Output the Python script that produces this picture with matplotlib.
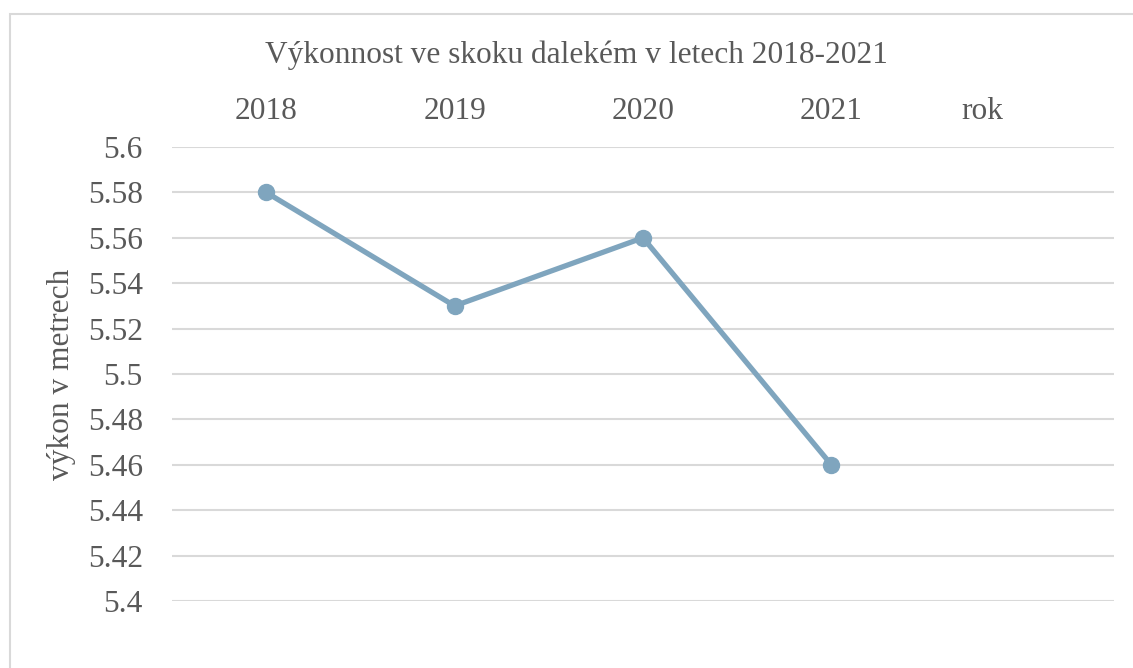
import matplotlib
matplotlib.use("Agg")
import matplotlib.pyplot as plt
from matplotlib.patches import Rectangle

years = ["2018", "2019", "2020", "2021"]
values = [5.58, 5.53, 5.56, 5.46]
y_ticks = [5.4, 5.42, 5.44, 5.46, 5.48, 5.5, 5.52, 5.54, 5.56, 5.58, 5.6]
y_tick_labels = ["5.4", "5.42", "5.44", "5.46", "5.48", "5.5", "5.52", "5.54", "5.56", "5.58", "5.6"]
title = "Výkonnost ve skoku dalekém v letech 2018-2021"
x_title = "rok"
y_title = "výkon v metrech"

plt.rcParams['font.family'] = ['Liberation Serif', 'DejaVu Serif']
TXT = "#595959"
FS = 22.6

W, H = 1133, 668
fig = plt.figure(figsize=(W / 100, H / 100), dpi=100)
fig.patch.set_facecolor("white")

# outer chart border (extends beyond image right/bottom)
fig.patches.append(Rectangle((10 / W, -0.1), 1.2, 1 - 14 / H + 0.1, transform=fig.transFigure,
                             fill=False, edgecolor="#d9d9d9", linewidth=1.5, zorder=0))

ax = fig.add_axes([172 / W, 1 - 601 / H, (1114 - 172) / W, (601 - 147) / H])
ax.set_xlim(-0.5, 4.5)
ax.set_ylim(5.4, 5.6)

for t in y_ticks:
    ax.axhline(t, color="#d9d9d9", linewidth=1.5, zorder=1)

x = list(range(len(years)))
ax.plot(x, values, color="#7fa5be", linewidth=3.8, marker="o", markersize=11.5,
        solid_capstyle="round", zorder=3)

ax.set_yticks(y_ticks)
ax.set_yticklabels(y_tick_labels, fontsize=FS, color=TXT)
ax.set_xticks(x)
ax.set_xticklabels(years, fontsize=FS, color=TXT)
ax.xaxis.tick_top()
ax.tick_params(axis="both", length=0)
ax.tick_params(axis="y", pad=21)
ax.tick_params(axis="x", pad=15)
for s in ax.spines.values():
    s.set_visible(False)

fig.text(62 / W, 1 - 374 / H, y_title, rotation=90, fontsize=FS, color=TXT,
         ha="center", va="center")
fig.text(576 / W, 1 - 55 / H, title, fontsize=FS, color=TXT, ha="center", va="center")

fig.canvas.draw()
# place "rok" on the same baseline as the top tick labels
bb = ax.get_xticklabels()[0].get_window_extent()
rok_x = ax.transData.transform((3.8, 5.5))[0]
fig.text(rok_x / W, bb.y0 / H, x_title, fontsize=FS, color=TXT, ha="center", va="bottom")

fig.savefig("out.png", dpi=100, facecolor="white")
